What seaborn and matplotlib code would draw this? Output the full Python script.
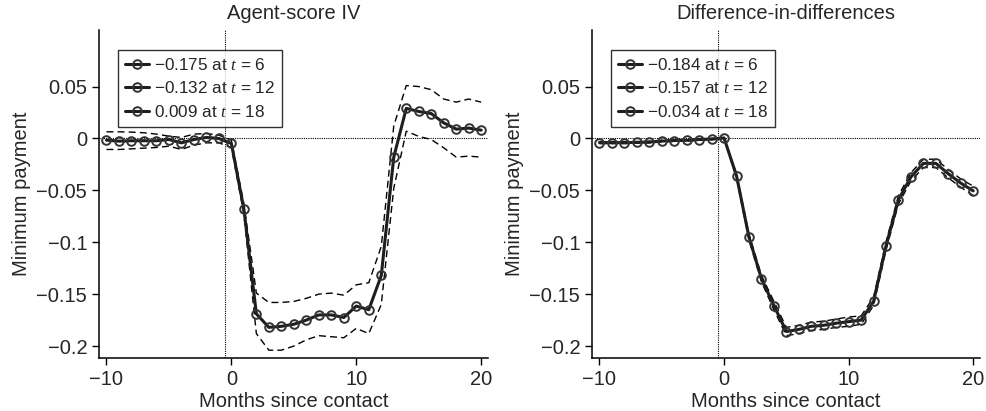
import numpy as np
import pandas as pd
import matplotlib
matplotlib.use("Agg")
import matplotlib.pyplot as plt
import seaborn as sns
from matplotlib.lines import Line2D

# ---------------- data ----------------
months = list(range(-10, 21))

iv_est = [-0.0016, -0.0026, -0.0022, -0.0022, -0.0022, -0.0010, -0.0042, -0.0010, 0.0010, 0.0000,
          -0.0048, -0.068, -0.169, -0.182, -0.181, -0.179, -0.175, -0.170, -0.170, -0.1725,
          -0.1615, -0.165, -0.132, -0.018, 0.029, 0.026, 0.024, 0.015, 0.009, 0.010, 0.008]
iv_upper = [0.0064, 0.0064, 0.0061, 0.0055, 0.0042, 0.0022, 0.0010, 0.0042, 0.0048, 0.0032,
            -0.0016, -0.063, -0.149, -0.158, -0.158, -0.157, -0.154, -0.150, -0.149, -0.151,
            -0.141, -0.139, -0.104, 0.012, 0.051, 0.050, 0.047, 0.038, 0.035, 0.038, 0.035]
iv_lower = [-0.0106, -0.0106, -0.0100, -0.0093, -0.0087, -0.0074, -0.0106, -0.0064, -0.0042, -0.0042,
            -0.0087, -0.073, -0.188, -0.204, -0.204, -0.200, -0.194, -0.190, -0.191, -0.192,
            -0.183, -0.188, -0.160, -0.048, 0.007, 0.002, -0.001, -0.009, -0.018, -0.017, -0.018]

did_est = [-0.0040, -0.0040, -0.0040, -0.0038, -0.0035, -0.0025, -0.0020, -0.0018, -0.0010, -0.0006,
           0.0005, -0.036, -0.095, -0.135, -0.161, -0.186, -0.184, -0.181, -0.180, -0.178,
           -0.1765, -0.175, -0.157, -0.1035, -0.059, -0.037, -0.024, -0.024, -0.034, -0.043, -0.0505]
did_upper = [-0.0030, -0.0030, -0.0030, -0.0030, -0.0027, -0.0017, -0.0012, -0.0010, -0.0003, 0.0001,
             0.0005, -0.034, -0.092, -0.132, -0.157, -0.182, -0.180, -0.177, -0.176, -0.174,
             -0.172, -0.171, -0.153, -0.0995, -0.055, -0.033, -0.020, -0.020, -0.030, -0.039, -0.046]
did_lower = [-0.0050, -0.0050, -0.0050, -0.0046, -0.0043, -0.0033, -0.0028, -0.0026, -0.0017, -0.0013,
             0.0005, -0.038, -0.098, -0.138, -0.165, -0.190, -0.188, -0.185, -0.184, -0.182,
             -0.181, -0.179, -0.161, -0.1075, -0.063, -0.041, -0.028, -0.028, -0.038, -0.047, -0.055]

titles = ["Agent-score IV", "Difference-in-differences"]
iv_legend = ["\u22120.175 at $t$ = 6", "\u22120.132 at $t$ = 12", "0.009 at $t$ = 18"]
did_legend = ["\u22120.184 at $t$ = 6", "\u22120.157 at $t$ = 12", "\u22120.034 at $t$ = 18"]
xlabel = "Months since contact"
ylabel = "Minimum payment"
xticks = [-10, 0, 10, 20]
xticklabels = ["\u221210", "0", "10", "20"]
yticks = [-0.2, -0.15, -0.1, -0.05, 0, 0.05]
yticklabels = ["\u22120.2", "\u22120.15", "\u22120.1", "\u22120.05", "0", "0.05"]

# ---------------- style ----------------
sns.set_style("ticks")
plt.rcParams["font.family"] = ["Liberation Sans", "DejaVu Sans"]
plt.rcParams["mathtext.fontset"] = "custom"
plt.rcParams["mathtext.rm"] = "Liberation Sans"
plt.rcParams["mathtext.it"] = "Liberation Serif:italic"
plt.rcParams["axes.unicode_minus"] = True

FS = 14.5
fig = plt.figure(figsize=(9.86, 4.11), dpi=100)
ax1 = fig.add_axes([0.1004, 0.129, 0.3946, 0.798])
ax2 = fig.add_axes([0.6004, 0.129, 0.3936, 0.798])

panels = [
    (ax1, iv_est, iv_upper, iv_lower, iv_legend, titles[0]),
    (ax2, did_est, did_upper, did_lower, did_legend, titles[1]),
]

main_kw = dict(color="#1e1e1e", linewidth=2.2, marker="o", markersize=6.2,
               markerfacecolor="none", markeredgecolor="#333333", markeredgewidth=1.4)

for ax, est, up, lo, leg, title in panels:
    df = pd.DataFrame({"month": months, "est": est, "upper": up, "lower": lo})
    ax.axhline(0, color="black", linewidth=0.8, linestyle=(0, (1, 1.0)), zorder=1)
    ax.axvline(-0.5, color="black", linewidth=0.8, linestyle=(0, (1, 1.0)), zorder=1)
    sns.lineplot(data=df, x="month", y="upper", ax=ax, color="black",
                 linewidth=1.0, linestyle=(0, (5, 3)), zorder=2)
    sns.lineplot(data=df, x="month", y="lower", ax=ax, color="black",
                 linewidth=1.0, linestyle=(0, (5, 3)), zorder=2)
    sns.lineplot(data=df, x="month", y="est", ax=ax, zorder=3, **main_kw)

    ax.set_xlim(-10.6, 20.55)
    ax.set_ylim(-0.2115, 0.1045)
    ax.set_xticks(xticks)
    ax.set_xticklabels(xticklabels)
    ax.set_yticks(yticks)
    ax.set_yticklabels(yticklabels)
    ax.tick_params(labelsize=FS, length=5, width=1, direction="out", color="black")
    ax.set_xlabel(xlabel, fontsize=FS, labelpad=2)
    ax.set_ylabel(ylabel, fontsize=FS, labelpad=4)
    ax.set_title(title, fontsize=FS, pad=8)
    sns.despine(ax=ax)
    for s in ("left", "bottom"):
        ax.spines[s].set_linewidth(1.1)
        ax.spines[s].set_color("black")

    handles = [Line2D([0], [0], **main_kw) for _ in leg]
    lg = ax.legend(handles, leg, loc="upper left", bbox_to_anchor=(0.05, 0.94),
                   fontsize=12.3, frameon=True, fancybox=False, edgecolor="black",
                   handlelength=1.4, handletextpad=0.3, labelspacing=0.45,
                   borderpad=0.4, borderaxespad=0)
    lg.get_frame().set_linewidth(1.0)

fig.savefig("out.png", dpi=100)
